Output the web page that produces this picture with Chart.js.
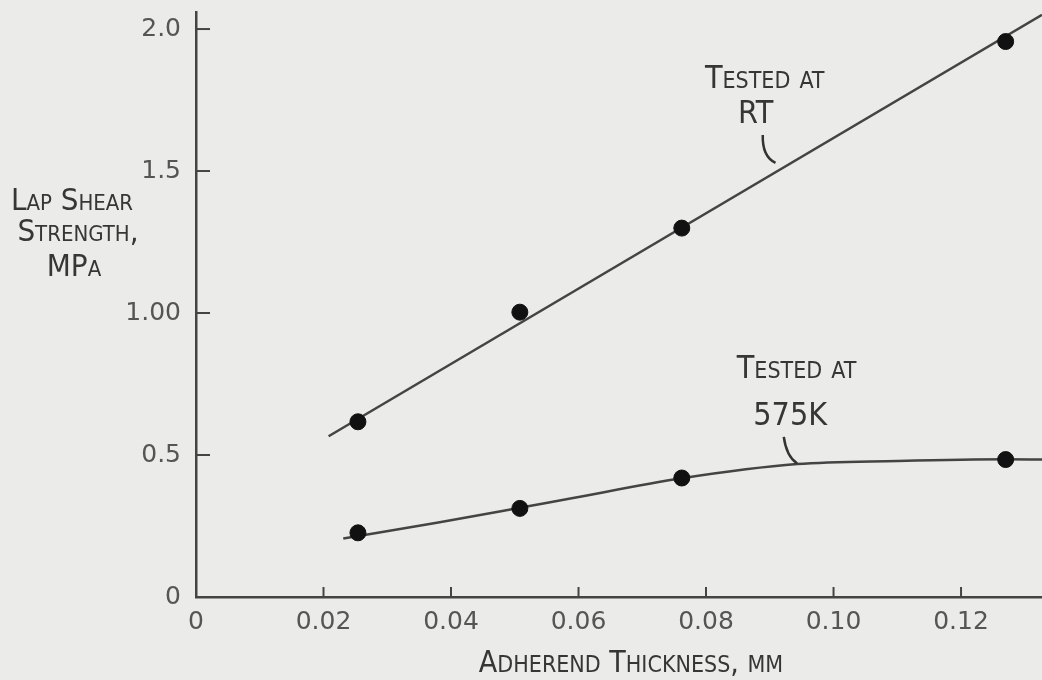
<!DOCTYPE html>
<html>
<head>
<meta charset="utf-8">
<script src="https://cdn.jsdelivr.net/npm/chart.js@4.4.1/dist/chart.umd.min.js"></script>
<style>
  html, body { margin: 0; padding: 0; background: #ebebe9; }
  #wrap { width: 1042px; height: 680px; }
</style>
</head>
<body>
<div id="wrap"><canvas id="lapChart" width="1042" height="680"></canvas></div>
<script>
// adherend thickness of the specimens, mm
const thickness = [0.0254, 0.0508, 0.0762, 0.127];
// lap shear strength, MPa
const strengthRT = [0.617, 1.003, 1.299, 1.956];
const strength575K = [0.226, 0.312, 0.419, 0.484];

// faired curves drawn through the points
const fitRTx = [0.0208, 0.1327];
const fitRTy = [0.566, 2.050];
const fit575x = [0.0231, 0.0380, 0.0508, 0.0583, 0.0762, 0.0943, 0.110, 0.127, 0.1327];
const fit575y = [0.206, 0.262, 0.314, 0.345, 0.418, 0.468, 0.479, 0.485, 0.484];

// axis ticks
const xTicks = [0, 0.02, 0.04, 0.06, 0.08, 0.10, 0.12];
const xTickLabels = ['0', '0.02', '0.04', '0.06', '0.08', '0.10', '0.12'];
const yTicks = [0, 0.5, 1.0, 1.5, 2.0];
const yTickLabels = ['0', '0.5', '1.00', '1.5', '2.0'];

const FAMILY = "'DejaVu Sans Condensed', 'DejaVu Sans', sans-serif";
const INK = '#363636';

// curve labels, anchored in data units
const notes = [
  { text: 'Tested at', x: 0.0892, y: 1.793 },
  { text: 'RT', x: 0.0878, y: 1.670 },
  { text: 'Tested at', x: 0.0942, y: 0.771 },
  { text: '575K', x: 0.0932, y: 0.605 }
];
// little curved leaders from label to curve
const leaders = [
  { x0: 0.0889, y0: 1.627, cx: 0.0888, cy: 1.551, x1: 0.0909, y1: 1.529 },
  { x0: 0.0922, y0: 0.564, cx: 0.0926, cy: 0.496, x1: 0.0943, y1: 0.470 }
];

// draw text with lower case letters set as small capitals
function drawCaps(ctx, text, cx, baseline, big, small) {
  const runs = [];
  for (const ch of text) {
    const low = ch !== ch.toUpperCase();
    const last = runs[runs.length - 1];
    if (last && last.low === low) last.s += ch;
    else runs.push({ s: ch, low: low });
  }
  let total = 0;
  runs.forEach(r => {
    ctx.font = (r.low ? small : big) + 'px ' + FAMILY;
    r.t = r.low ? r.s.toUpperCase() : r.s;
    r.w = ctx.measureText(r.t).width;
    total += r.w;
  });
  let x = cx - total / 2;
  ctx.textAlign = 'left';
  ctx.textBaseline = 'alphabetic';
  runs.forEach(r => {
    ctx.font = (r.low ? small : big) + 'px ' + FAMILY;
    ctx.fillText(r.t, x, baseline);
    x += r.w;
  });
}

const paperMarks = {
  id: 'paperMarks',
  afterDraw(chart) {
    const ctx = chart.ctx;
    const xs = chart.scales.x, ys = chart.scales.y;
    const area = chart.chartArea;
    ctx.save();

    // tick marks pointing into the plot
    ctx.strokeStyle = '#444';
    ctx.lineWidth = 2;
    xTicks.slice(1).forEach(v => {
      const px = xs.getPixelForValue(v);
      ctx.beginPath();
      ctx.moveTo(px, area.bottom);
      ctx.lineTo(px, area.bottom - 10);
      ctx.stroke();
    });
    yTicks.slice(1).forEach(v => {
      const py = ys.getPixelForValue(v);
      ctx.beginPath();
      ctx.moveTo(area.left, py);
      ctx.lineTo(area.left + 14, py);
      ctx.stroke();
    });

    // leaders
    ctx.lineWidth = 2.5;
    ctx.strokeStyle = '#333';
    leaders.forEach(l => {
      ctx.beginPath();
      ctx.moveTo(xs.getPixelForValue(l.x0), ys.getPixelForValue(l.y0));
      ctx.quadraticCurveTo(xs.getPixelForValue(l.cx), ys.getPixelForValue(l.cy),
                           xs.getPixelForValue(l.x1), ys.getPixelForValue(l.y1));
      ctx.stroke();
    });

    ctx.fillStyle = INK;
    notes.forEach(n => {
      drawCaps(ctx, n.text, xs.getPixelForValue(n.x), ys.getPixelForValue(n.y), 32, 23);
    });

    // axis titles
    drawCaps(ctx, 'Lap Shear', 72, 210, 31, 22);
    drawCaps(ctx, 'Strength,', 78, 241, 31, 22);
    drawCaps(ctx, 'MPa', 74, 276, 31, 22);
    drawCaps(ctx, 'Adherend Thickness, mm', 631, 672, 30, 23);

    ctx.restore();
  }
};

const ctx = document.getElementById('lapChart').getContext('2d');

new Chart(ctx, {
  type: 'scatter',
  data: {
    datasets: [
      {
        label: 'Tested at RT',
        data: thickness.map((x, i) => ({ x: x, y: strengthRT[i] })),
        pointRadius: 8,
        pointBackgroundColor: '#111',
        pointBorderColor: '#111',
        showLine: false
      },
      {
        label: 'Tested at 575K',
        data: thickness.map((x, i) => ({ x: x, y: strength575K[i] })),
        pointRadius: 8,
        pointBackgroundColor: '#111',
        pointBorderColor: '#111',
        showLine: false
      },
      {
        label: 'RT curve',
        data: fitRTx.map((x, i) => ({ x: x, y: fitRTy[i] })),
        showLine: true,
        pointRadius: 0,
        borderColor: '#444',
        borderWidth: 2.5
      },
      {
        label: '575K curve',
        data: fit575x.map((x, i) => ({ x: x, y: fit575y[i] })),
        showLine: true,
        pointRadius: 0,
        borderColor: '#444',
        borderWidth: 2.5,
        cubicInterpolationMode: 'monotone'
      }
    ]
  },
  options: {
    responsive: false,
    animation: false,
    layout: { autoPadding: false, padding: { top: 12, right: 0, bottom: 0, left: 0 } },
    plugins: {
      legend: { display: false },
      tooltip: { enabled: false }
    },
    scales: {
      x: {
        type: 'linear',
        min: 0,
        max: 0.1327,
        afterBuildTicks: s => { s.ticks = xTicks.map(v => ({ value: v })); },
        afterFit: s => { s.height = 83; s.paddingLeft = 0; s.paddingRight = 0; },
        ticks: {
          callback: (v, i) => xTickLabels[i],
          font: { family: "'DejaVu Sans', sans-serif", size: 25 },
          color: '#555',
          padding: 2,
          maxRotation: 0,
          autoSkip: false
        },
        grid: { display: false },
        border: { display: true, color: '#444', width: 2.5 }
      },
      y: {
        type: 'linear',
        min: 0,
        max: 2.06,
        afterBuildTicks: s => { s.ticks = yTicks.map(v => ({ value: v })); },
        afterFit: s => { s.width = 196; s.paddingTop = 0; s.paddingBottom = 0; },
        ticks: {
          callback: (v, i) => yTickLabels[i],
          font: { family: "'DejaVu Sans', sans-serif", size: 25 },
          color: '#555',
          padding: 7,
          autoSkip: false
        },
        grid: { display: false },
        border: { display: true, color: '#444', width: 2.5 }
      }
    }
  },
  plugins: [paperMarks]
});
</script>
</body>
</html>
